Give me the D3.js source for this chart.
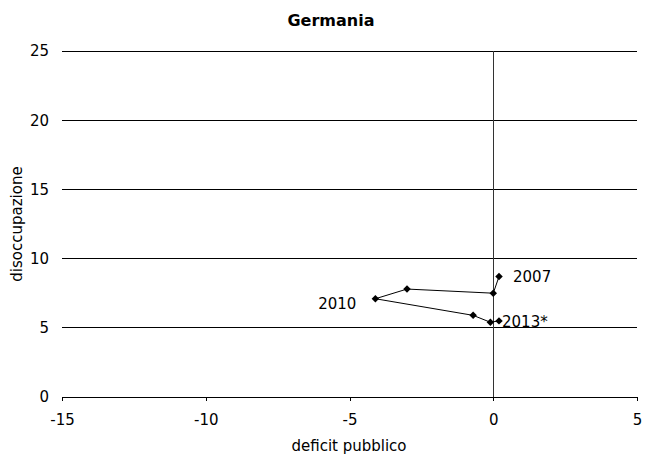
<!DOCTYPE html>
<html><head><meta charset="utf-8">
<script src="https://cdn.jsdelivr.net/npm/d3@7"></script>
<style>body{margin:0;background:#fff}svg{display:block}text{font-family:"DejaVu Sans",Verdana,sans-serif}</style>
</head><body><svg id="c" width="645" height="456"></svg>
<script>
const years = ["2007","2008","2009","2010","2011","2012","2013*"];
const deficit = [0.2, 0.0, -3.0, -4.1, -0.7, -0.1, 0.2];
const unemployment = [8.7, 7.5, 7.8, 7.1, 5.9, 5.4, 5.5];
const labelled = ["2007","2010","2013*"];
const xTicks = [-15,-10,-5,0,5];
const yTicks = [0,5,10,15,20,25];

const FS = 15;
const svg = d3.select("#c");
const x = d3.scaleLinear().domain([-15,5]).range([62,637]);
const y = d3.scaleLinear().domain([0,25]).range([397,51]);

// gridlines
svg.append("g").selectAll("line").data(yTicks.filter(d=>d>0)).join("line")
  .attr("x1",x(-15)).attr("x2",x(5)).attr("y1",d=>y(d)).attr("y2",d=>y(d))
  .attr("stroke","#000").attr("stroke-width",1).attr("shape-rendering","crispEdges");

// vertical axis at x=0
svg.append("line").attr("x1",x(0)).attr("x2",x(0)).attr("y1",y(25)).attr("y2",y(0))
  .attr("stroke","#333").attr("stroke-width",1).attr("shape-rendering","crispEdges");

// x axis
const xa = svg.append("g").attr("transform",`translate(0,${y(0)})`)
  .call(d3.axisBottom(x).tickValues(xTicks).tickSize(4).tickSizeOuter(0).tickPadding(13).tickFormat(d=>String(d)));
xa.select(".domain").attr("stroke","#000").attr("shape-rendering","crispEdges");
xa.selectAll(".tick line").attr("shape-rendering","crispEdges");
xa.selectAll("text").attr("font-size",FS).attr("fill","#000").style("font-family","DejaVu Sans, Verdana, sans-serif");

// y labels
svg.append("g").selectAll("text").data(yTicks).join("text")
  .attr("x",49).attr("y",d=>y(d)).attr("dy","0.36em").attr("text-anchor","end")
  .attr("font-size",FS).text(d=>d);

// line
const line = d3.line().x((d,i)=>x(deficit[i])).y((d,i)=>y(unemployment[i]));
svg.append("path").datum(years).attr("d",line).attr("fill","none").attr("stroke","#000").attr("stroke-width",1);

// markers
svg.append("g").selectAll("path").data(years).join("path")
  .attr("d",d3.symbol(d3.symbolSquare,28))
  .attr("transform",(d,i)=>`translate(${x(deficit[i])},${y(unemployment[i])}) rotate(45)`)
  .attr("fill","#000");

// data labels
const lab = {"2007":{dx:14,dy:5,a:"start"},"2010":{dx:-19,dy:10,a:"end"},"2013*":{dx:3,dy:6,a:"start"}};
svg.append("g").selectAll("text").data(labelled).join("text")
  .attr("x",d=>x(deficit[years.indexOf(d)])+lab[d].dx)
  .attr("y",d=>y(unemployment[years.indexOf(d)])+lab[d].dy)
  .attr("text-anchor",d=>lab[d].a).attr("font-size",FS).text(d=>d);

// title & axis titles
svg.append("text").attr("x",331).attr("y",26).attr("text-anchor","middle")
  .attr("font-size",16).attr("font-weight","bold").text("Germania");
svg.append("text").attr("x",349).attr("y",451).attr("text-anchor","middle")
  .attr("font-size",FS).text("deficit pubblico");
svg.append("text").attr("transform",`translate(22,${y(12.5)}) rotate(-90)`).attr("text-anchor","middle")
  .attr("font-size",FS).text("disoccupazione");
</script></body></html>
